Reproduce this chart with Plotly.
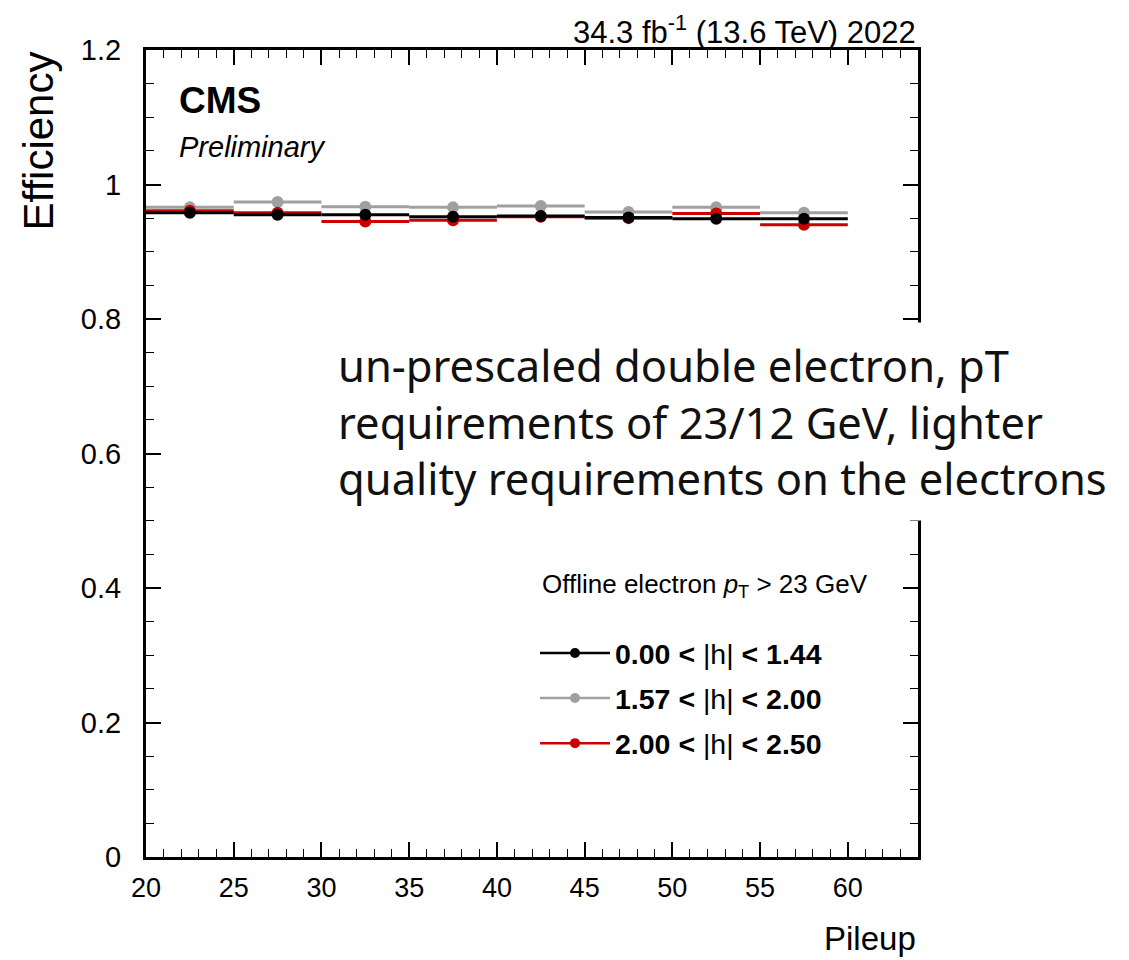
import plotly.graph_objects as go

# Data: pileup bins (centers, half-widths) and efficiencies
pileup_centers = [22.5, 27.5, 32.5, 37.5, 42.5, 47.5, 52.5, 57.5]
bin_halfwidth = [2.5, 2.5, 2.5, 2.5, 2.5, 2.5, 2.5, 2.5]

eff_barrel = [0.958, 0.955, 0.955, 0.952, 0.953, 0.951, 0.949, 0.949]   # 0.00<|eta|<1.44
eff_endcap1 = [0.966, 0.974, 0.967, 0.966, 0.968, 0.959, 0.966, 0.958]  # 1.57<|eta|<2.00
eff_endcap2 = [0.961, 0.958, 0.945, 0.947, 0.952, 0.950, 0.957, 0.940]  # 2.00<|eta|<2.50

series_names = ["0.00 &lt; |h| &lt; 1.44", "1.57 &lt; |h| &lt; 2.00", "2.00 &lt; |h| &lt; 2.50"]
series_colors = ["#000000", "#a0a0a0", "#cc0000"]

x_tickvals = [20, 25, 30, 35, 40, 45, 50, 55, 60]
y_tickvals = [0, 0.2, 0.4, 0.6, 0.8, 1.0, 1.2]
y_ticktext = ["0", "0.2", "0.4", "0.6", "0.8", "1", "1.2"]

FONT = "Liberation Sans"

fig = go.Figure()

data = [eff_barrel, eff_endcap1, eff_endcap2]
# drawing order: gray, red, black (black on top)
for idx in [1, 2, 0]:
    fig.add_trace(go.Scatter(
        x=pileup_centers, y=data[idx], mode="markers",
        marker=dict(color=series_colors[idx], size=12),
        error_x=dict(type="data", array=bin_halfwidth, symmetric=True,
                     color=series_colors[idx], thickness=3, width=0),
        showlegend=False, hoverinfo="x+y"))

# legend entries
for idx in range(3):
    fig.add_trace(go.Scatter(
        x=[None], y=[None], mode="lines+markers",
        line=dict(color=series_colors[idx], width=2.5),
        marker=dict(color=series_colors[idx], size=10),
        name="<b>" + series_names[idx].replace("|h|", "</b>|h|<b>") + "</b>",
        legendgroup=str(idx)))

W, H = 1129, 960
L, R, T, B = 146, 918, 50, 857
pw, ph = R - L, B - T

def px(x):
    return (x - L) / pw

def py(y):
    return (B - y) / ph

fig.update_layout(
    width=W, height=H,
    margin=dict(l=L, r=W - R, t=T, b=H - B, pad=0),
    paper_bgcolor="white", plot_bgcolor="white",
    font=dict(family=FONT, size=26, color="black"),
    showlegend=True,
    legend=dict(x=px(535), y=py(628), xanchor="left", yanchor="top",
                bgcolor="rgba(0,0,0,0)", font=dict(family=FONT, size=28.5, color="black"),
                tracegroupgap=5, itemwidth=70, traceorder="grouped"),
    xaxis=dict(range=[20, 64], tickvals=x_tickvals, ticks="inside", ticklen=15,
               tickwidth=1.5, tickcolor="black", showline=True, linewidth=3,
               linecolor="black", mirror="ticks", showgrid=False, zeroline=False,
               tickfont=dict(size=27), ticklabelstandoff=5,
               minor=dict(dtick=1, ticks="inside", ticklen=8, tickwidth=1.3,
                          tickcolor="black", showgrid=False)),
    yaxis=dict(range=[0, 1.2], tickvals=y_tickvals, ticktext=y_ticktext,
               ticks="inside", ticklen=15, tickwidth=1.5, tickcolor="black",
               showline=True, linewidth=3, linecolor="black", mirror="ticks",
               showgrid=False, zeroline=False, tickfont=dict(size=29),
               ticklabelstandoff=16,
               minor=dict(dtick=0.05, ticks="inside", ticklen=8, tickwidth=1.3,
                          tickcolor="black", showgrid=False)),
)

ann = [
    dict(text="34.3 fb<sup>-1</sup> (13.6 TeV) 2022", x=1, y=py(30), xanchor="right",
         yanchor="middle", font=dict(size=31)),
    dict(text="<b>CMS</b>", x=px(177), y=py(100), xanchor="left", yanchor="middle",
         font=dict(size=37)),
    dict(text="<i>Preliminary</i>", x=px(177), y=py(147), xanchor="left", yanchor="middle",
         font=dict(size=29)),
    dict(text="Efficiency", x=px(38), y=1, xanchor="center", yanchor="top",
         textangle=-90, font=dict(size=42)),
    dict(text="Pileup", x=1, y=py(938), xanchor="right", yanchor="middle",
         font=dict(size=33)),
    dict(text="Offline electron <i>p</i><sub>T</sub> &gt; 23 GeV", x=px(540), y=py(585),
         xanchor="left", yanchor="middle", font=dict(size=26)),
    dict(text="un-prescaled double electron, pT<br>requirements of 23/12 GeV, lighter<br>quality requirements on the electrons",
         x=px(325), y=py(421), xanchor="left", yanchor="middle", align="left",
         bgcolor="white", borderpad=12,
         font=dict(family="Noto Sans", size=43.5, color="#111111")),
]
for a in ann:
    a.setdefault("xref", "paper")
    a.setdefault("yref", "paper")
    a["showarrow"] = False
    fig.add_annotation(**a)

fig.write_html("out.html")
